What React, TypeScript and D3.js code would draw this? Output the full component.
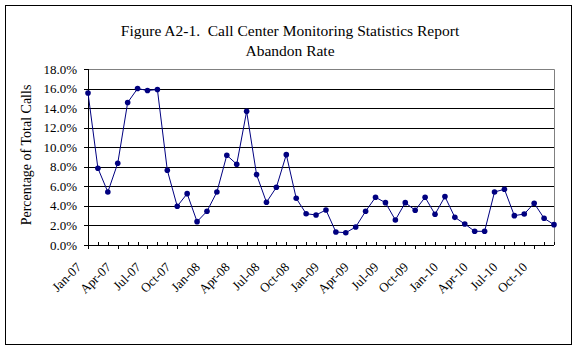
import React from "react";
import * as d3 from "d3";

const months: string[] = [
  "Jan-07","Feb-07","Mar-07","Apr-07","May-07","Jun-07","Jul-07","Aug-07","Sep-07","Oct-07","Nov-07","Dec-07",
  "Jan-08","Feb-08","Mar-08","Apr-08","May-08","Jun-08","Jul-08","Aug-08","Sep-08","Oct-08","Nov-08","Dec-08",
  "Jan-09","Feb-09","Mar-09","Apr-09","May-09","Jun-09","Jul-09","Aug-09","Sep-09","Oct-09","Nov-09","Dec-09",
  "Jan-10","Feb-10","Mar-10","Apr-10","May-10","Jun-10","Jul-10","Aug-10","Sep-10","Oct-10","Nov-10","Dec-10",
];

const abandonRate: number[] = [
  15.55, 7.85, 5.42, 8.36, 14.57, 16.0, 15.8, 15.9, 7.64, 3.96, 5.25, 2.39,
  3.45, 5.42, 9.18, 8.26, 13.67, 7.2, 4.37, 5.9, 9.24, 4.78, 3.2, 3.07,
  3.58, 1.33, 1.26, 1.84, 3.45, 4.88, 4.33, 2.56, 4.33, 3.55, 4.88, 3.14,
  4.95, 2.83, 2.15, 1.4, 1.4, 5.42, 5.7, 3.0, 3.17, 4.27, 2.73, 2.08,
];

const yTicks: number[] = [0, 2, 4, 6, 8, 10, 12, 14, 16, 18];
const titleLines: string[] = ["Figure A2-1.  Call Center Monitoring Statistics Report", "Abandon Rate"];
const yTitle = "Percentage of Total Calls";

const FONT = "'Liberation Serif', 'Times New Roman', serif";
const NAVY = "#000080";

export default function App() {
  const W = 578, H = 352;
  const left = 88, right = 554, top = 69, bottom = 245;
  const x = d3.scalePoint<string>().domain(months).range([left, right]);
  const y = d3.scaleLinear().domain([0, 18]).range([bottom, top]);
  const line = d3.line<number>()
    .x((_, i) => x(months[i]) as number)
    .y((d) => y(d));

  return (
    <svg width={W} height={H} style={{ position: "absolute", left: 0, top: 0 }} fontFamily={FONT}>
      <rect x={0} y={0} width={W} height={H} fill="#fff" />
      <rect x={5.5} y={5.5} width={566} height={339} fill="none" stroke="#000" strokeWidth={1} />
      {titleLines.map((t, i) => (
        <text key={i} x={290} y={36 + i * 20} textAnchor="middle" fontSize={15.5} fill="#000">
          {t.replace(/  /g, "\u00a0 ")}
        </text>
      ))}
      {/* gridlines */}
      {yTicks.filter((v) => v > 0 && v < 18).map((v) => (
        <line key={v} x1={left} x2={right} y1={Math.round(y(v)) + 0.5} y2={Math.round(y(v)) + 0.5} stroke="#000" strokeWidth={1} />
      ))}
      {/* plot border top/right */}
      <polyline
        points={`${left},${Math.round(y(18)) + 0.5} ${right + 0.5},${Math.round(y(18)) + 0.5} ${right + 0.5},${bottom}`}
        fill="none" stroke="#808080" strokeWidth={1}
      />
      {/* y axis */}
      <line x1={left + 0.5} x2={left + 0.5} y1={top} y2={bottom + 4} stroke="#000" />
      {yTicks.map((v) => (
        <g key={v}>
          <line x1={left - 4} x2={left} y1={Math.round(y(v)) + 0.5} y2={Math.round(y(v)) + 0.5} stroke="#000" />
          <text x={77} y={y(v) + 4.5} textAnchor="end" fontSize={13} fill="#000">
            {v.toFixed(1) + "%"}
          </text>
        </g>
      ))}
      <text
        transform={`translate(31,155) rotate(-90)`}
        textAnchor="middle" fontSize={14} fill="#000"
      >
        {yTitle}
      </text>
      {/* x axis */}
      <line x1={left} x2={right} y1={bottom + 0.5} y2={bottom + 0.5} stroke="#000" />
      {months.map((m, i) => {
        const xp = Math.round(x(m) as number) + 0.5;
        const major = i % 3 === 0;
        return (
          <g key={m}>
            {major ? (
              <line x1={xp} x2={xp} y1={bottom} y2={bottom + 4} stroke="#000" />
            ) : (
              <line x1={xp} x2={xp} y1={bottom - 3} y2={bottom} stroke="#000" />
            )}
            {major && (
              <text
                transform={`translate(${(x(m) as number) - 6},${268}) rotate(-45)`}
                textAnchor="end" fontSize={13} fill="#000"
              >
                {m}
              </text>
            )}
          </g>
        );
      })}
      {/* series */}
      <path d={line(abandonRate) || ""} fill="none" stroke={NAVY} strokeWidth={1} />
      {abandonRate.map((v, i) => (
        <circle key={i} cx={x(months[i]) as number} cy={y(v)} r={2.8} fill={NAVY} />
      ))}
    </svg>
  );
}
